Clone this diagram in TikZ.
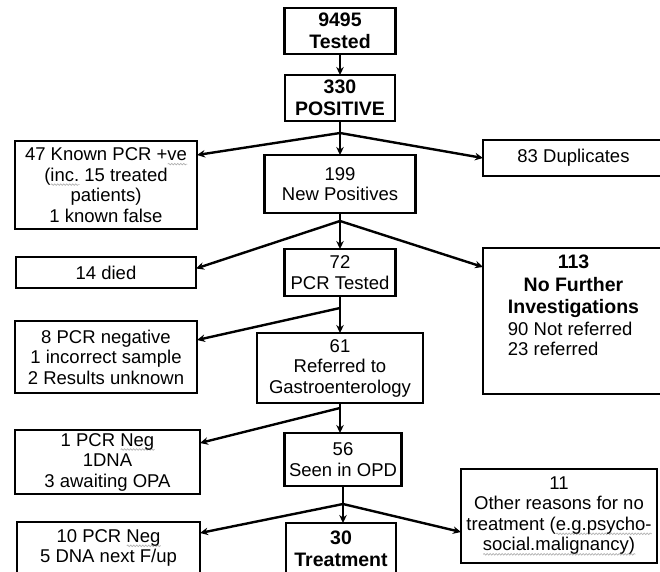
\documentclass[tikz,border=0pt]{standalone}
\usepackage{fontspec}
\setmainfont{Liberation Sans}
\usetikzlibrary{arrows.meta,positioning,decorations.pathmorphing}
\newsavebox\wavebox
\newcommand\spellwave[1]{\sbox\wavebox{#1}\rlap{\raisebox{-3.5pt}{\tikz[baseline=0pt]\draw[gray!60, line width=0.7pt, decorate,
    decoration={snake, amplitude=0.8pt, segment length=3pt}] (0pt,0pt) -- (\the\wd\wavebox,0pt);}}\usebox\wavebox}

\begin{document}
\begin{tikzpicture}[
  x=1pt, y=-1pt,
  box/.style={draw=black, line width=2.7pt, outer sep=0pt, inner sep=0pt, align=center, font=\fontsize{18.5}{20.5}\selectfont},
  bbox/.style={box, font=\fontsize{19.5}{22}\selectfont\bfseries},
  line/.style={line width=2.4pt},
  arr/.style={line, -{Stealth[length=8pt,width=7.5pt]}}
]
\useasboundingbox (0,0) rectangle (660,571);
\clip (0,0) rectangle (660,571);

% main column
\node[bbox, minimum width=111pt, minimum height=46pt] (T) at (340,31) {9495\\Tested};
\node[bbox, minimum width=110pt, minimum height=46pt, below=21pt of T] (Pos) {330\\POSITIVE};
\node[box, minimum width=151pt, minimum height=58pt, below=34pt of Pos] (N) {199\\New Positives};
\node[box, minimum width=111pt, minimum height=47pt, below=36pt of N] (PCR) {72\\PCR Tested};
\node[box, minimum width=166pt, minimum height=70pt, below=37pt of PCR] (Ref) {61\\Referred to\\Gastroenterology};
\node[box, minimum width=117pt, minimum height=53pt, below=30pt of Ref, xshift=3pt] (Seen) {56\\Seen in OPD};
\node[bbox, minimum width=110pt, minimum height=52pt, below=37pt of Seen, xshift=-2pt] (Treat) {30\\Treatment};

% side boxes
\node[box, minimum width=182pt, minimum height=88pt] (K) at (106,185) {47 Known PCR +\spellwave{ve}\\(\spellwave{inc.} 15 treated\\patients)\\1 known false};
\node[box, minimum width=181pt, minimum height=36pt] (Dup) at (573.5,158) {83 Duplicates};
\node[box, minimum width=180pt, minimum height=31pt] (Died) at (106,272.5) {14 died};
\node[box, minimum width=181pt, minimum height=146pt] (NF) at (573.5,321) {%
  \begin{tabular}{@{}l@{}}
  \multicolumn{1}{@{}c@{}}{\fontsize{19.5}{22}\selectfont\bfseries 113}\\[2pt]
  \multicolumn{1}{@{}c@{}}{\fontsize{19.5}{22}\selectfont\bfseries No Further}\\[2pt]
  \multicolumn{1}{@{}c@{}}{\fontsize{19.5}{22}\selectfont\bfseries Investigations}\\[1pt]
  90 Not referred\\
  23 referred\\[26pt]
  \end{tabular}};
\node[box, minimum width=182pt, minimum height=72pt] (Neg8) at (106,357) {8 PCR negative\\1 incorrect sample\\2 Results unknown};
\node[box, minimum width=185pt, minimum height=64pt] (Neg1) at (107.5,462) {1 PCR \spellwave{Neg}\\1DNA\\3 awaiting OPA};
\node[box, minimum width=196pt, minimum height=94pt] (Other) at (559,516) {11\\Other reasons for no\\treatment (\spellwave{e.g.psycho-}\\\spellwave{social.malignancy)}};
\node[box, minimum width=183pt, minimum height=52pt] (Neg10) at (108.5,548) {10 PCR \spellwave{Neg}\\5 DNA next F/up};

% branch points
\coordinate[below=12pt of Pos] (j1);
\coordinate[below=8pt of N] (j2);
\coordinate[below=12pt of PCR] (j3);
\coordinate[below=5pt of Ref] (j4);
\coordinate[below=18pt of Seen] (j5);

\draw[arr] (T) -- (Pos);

\draw[line] (Pos) -- (j1);
\draw[arr] (j1) -- (N);
\draw[arr] (j1) -- ([yshift=30pt]K.east);
\draw[arr] (j1) -- (Dup.west);

\draw[line] (N) -- (j2);
\draw[arr] (j2) -- (j2 |- PCR.north);
\draw[arr] (j2) -- ([yshift=4pt]Died.east);
\draw[arr] (j2) -- ([yshift=54pt]NF.west);

\draw[line] (PCR) -- (j3);
\draw[arr] (j3) -- (j3 |- Ref.north);
\draw[arr] (j3) -- ([yshift=17pt]Neg8.east);

\draw[line] (Ref) -- (j4);
\draw[arr] (j4) -- (j4 |- Seen.north);
\draw[arr] (j4) -- ([yshift=19pt]Neg1.east);

\draw[line] (Seen) -- (j5);
\draw[arr] (j5) -- (j5 |- Treat.north);
\draw[arr] (j5) -- ([yshift=15pt]Neg10.east);
\draw[arr] (j5) -- ([yshift=-16pt]Other.west);
\end{tikzpicture}
\end{document}
